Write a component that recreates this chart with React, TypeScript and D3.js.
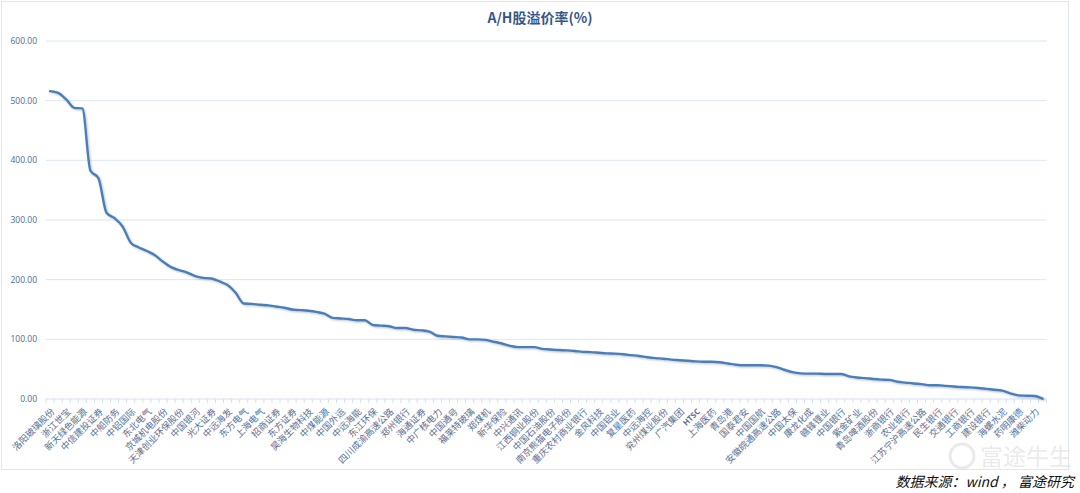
import React from "react";
import * as d3 from "d3";

const title = "A/H股溢价率(%)";
const sourceNote = "数据来源：wind ， 富途研究";
const watermark = "富途牛生";

// Tick labels shown on the axis (every other category)
const tickLabels = [
  "洛阳玻璃股份", "浙江世宝", "新天绿色能源", "中信建投证券", "中船防务", "中铝国际",
  "东北电气", "京城机电股份", "天津创业环保股份", "中国银河", "光大证券", "中远海发",
  "东方电气", "上海电气", "招商证券", "东方证券", "昊海生物科技", "中煤能源",
  "中国外运", "中远海能", "东江环保", "四川成渝高速公路", "郑州银行", "海通证券",
  "中广核电力", "中国通号", "福莱特玻璃", "郑煤机", "新华保险", "中兴通讯",
  "江西铜业股份", "中国石油股份", "南京熊猫电子股份", "重庆农村商业银行", "金风科技", "中国铝业",
  "复星医药", "中远海控", "兖州煤业股份", "广汽集团", "HTSC", "上海医药",
  "青岛港", "国泰君安", "中国国航", "安徽皖通高速公路", "中国太保", "康龙化成",
  "赣锋锂业", "中国银行", "紫金矿业", "青岛啤酒股份", "浙商银行", "农业银行",
  "江苏宁沪高速公路", "民生银行", "交通银行", "工商银行", "建设银行", "海螺水泥",
  "药明康德", "潍柴动力",
];

// A/H premium (%) for each of the 124 companies, sorted descending
const premiumValues = [
  516, 513, 502, 488, 487, 383, 370, 312, 303, 289,
  262, 254, 248, 241, 230, 221, 216, 212, 206, 203,
  202, 197, 191, 178, 160, 159.5, 158, 157, 155, 153,
  150, 149, 148, 146, 143, 136, 135, 134, 132, 132,
  124, 123, 122, 119, 119, 116, 115, 113, 106, 105,
  104, 103, 100, 100, 99, 96, 93, 89, 87, 87,
  87, 84, 83, 82, 81.5, 80.5, 79, 78.5, 77.5, 76.5,
  76, 75, 73.5, 72, 70, 68.5, 67.5, 66, 65, 64,
  63, 62.5, 62.5, 61.5, 59.5, 57.5, 56.5, 56.5, 56.5, 56,
  53.5, 49, 45, 43, 42.5, 42.5, 42, 42, 42, 38,
  36, 35, 33.5, 32.5, 32, 29, 27.5, 26, 25, 23,
  23, 22, 21, 20, 19.5, 18.5, 17, 15.5, 14, 9.5,
  6, 5.5, 5, 0.5,
];

const yTicks = [0, 100, 200, 300, 400, 500, 600];

const W = 1080;
const H = 493;
const plotLeft = 46;
const plotRight = 1046.6;
const plotTop = 41;
const plotBottom = 399;

export default function App() {
  const idx = premiumValues.map((_, i) => i);
  const x = d3.scaleBand<number>().domain(idx).range([plotLeft, plotRight]).padding(0);
  const bw = x.bandwidth();
  const cx = (i: number) => (x(i) as number) + bw / 2;
  const y = d3.scaleLinear().domain([0, 600]).range([plotBottom, plotTop]);

  const line = d3
    .line<number>()
    .x((_, i) => cx(i))
    .y((d) => y(d))
    .curve(d3.curveMonotoneX);

  const path = line(premiumValues) || "";
  const boundaries = idx.map((i) => x(i) as number).concat([plotRight]);

  const labelColor = "#5a6f95";

  return (
    <svg
      width={W}
      height={H}
      viewBox={`0 0 ${W} ${H}`}
      style={{ position: "absolute", left: 0, top: 0, background: "#fff" }}
    >
      <defs>
        <filter id="shadow" x="-5%" y="-5%" width="110%" height="110%">
          <feGaussianBlur in="SourceAlpha" stdDeviation="1" />
          <feOffset dx="0.8" dy="1.2" result="b" />
          <feComponentTransfer>
            <feFuncA type="linear" slope="0.25" />
          </feComponentTransfer>
          <feMerge>
            <feMergeNode />
            <feMergeNode in="SourceGraphic" />
          </feMerge>
        </filter>
      </defs>
      <rect x={0} y={0} width={W} height={H} fill="#fff" />
      <rect x={1.5} y={1.5} width={1067} height={468} fill="none" stroke="#dfe6ef" strokeWidth={1} />

      {/* title */}
      <text
        x={540}
        y={23}
        textAnchor="middle"
        fontFamily="'Noto Sans CJK SC', 'Open Sans', sans-serif"
        fontWeight="bold"
        fontSize={14}
        fill="#35568a"
      >
        {title}
      </text>

      {/* gridlines + y labels */}
      {yTicks.map((t) => (
        <g key={t}>
          {t > 0 && (
            <line x1={plotLeft} x2={plotRight} y1={y(t)} y2={y(t)} stroke="#dce6f2" strokeWidth={1} />
          )}
          <text
            x={37}
            y={y(t)}
            dy="0.35em"
            textAnchor="end"
            fontFamily="'Open Sans', 'Liberation Sans', sans-serif"
            fontSize={8.5}
            fill="#4d6a98"
          >
            {t.toFixed(2)}
          </text>
        </g>
      ))}

      {/* x axis */}
      <line x1={plotLeft} x2={plotRight} y1={plotBottom} y2={plotBottom} stroke="#d3def0" strokeWidth={1} />
      {boundaries.map((b, i) => (
        <line key={i} x1={b} x2={b} y1={plotBottom} y2={plotBottom + 4} stroke="#d3def0" strokeWidth={1} />
      ))}

      {tickLabels.map((lab, k) => {
        const i = k * 2;
        const px = cx(i);
        const isLatin = /^[A-Za-z]+$/.test(lab);
        return (
          <text
            key={k}
            transform={`translate(${px + 3},${plotBottom + 11}) rotate(-45)`}
            textAnchor="end"
            dy="0.35em"
            fontFamily={isLatin ? "'Open Sans', sans-serif" : "'Noto Sans CJK SC', sans-serif"}
            fontWeight={isLatin ? "bold" : "normal"}
            fontSize={isLatin ? 8 : 9.2}
            fill={labelColor}
          >
            {lab}
          </text>
        );
      })}

      {/* line */}
      <path
        d={path}
        fill="none"
        stroke="#4a7ebb"
        strokeWidth={2.4}
        strokeLinejoin="round"
        strokeLinecap="round"
        filter="url(#shadow)"
      />

      {/* watermark */}
      <g opacity={0.5}>
        <circle cx={962} cy={456} r={12} fill="none" stroke="#d6d6d6" strokeWidth={3} />
        <text
          x={980}
          y={465}
          fontFamily="'Noto Sans CJK SC', sans-serif"
          fontSize={23}
          fill="#d6d6d6"
        >
          {watermark}
        </text>
      </g>

      {/* source note */}
      <text
        x={1074}
        y={487}
        textAnchor="end"
        fontFamily="'Noto Sans CJK SC', sans-serif"
        fontStyle="italic"
        fontSize={14}
        fill="#111"
      >
        {sourceNote}
      </text>
    </svg>
  );
}
